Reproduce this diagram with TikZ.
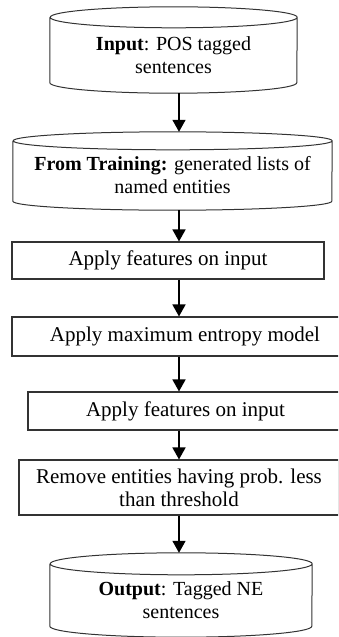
\documentclass[tikz,border=0pt]{standalone}
\usepackage{fontspec}
\setmainfont{Liberation Serif}
\usetikzlibrary{arrows.meta,calc}

\begin{document}
\begin{tikzpicture}[x=1pt, y=-1pt,
        every node/.style={align=center, inner sep=0pt},
        db/.style={rectangle, font=\fontsize{20}{23}\selectfont},
        dbline/.style={draw=black!80, line width=1pt},
        stepbox/.style={rectangle, draw=black!80, line width=1.1pt, font=\fontsize{21}{23}\selectfont},
        flow/.style={line width=1.6pt, -{Triangle[width=13pt,length=12pt]}}]
        \clip (0,0) rectangle (338,637);
        \coordinate (ax) at (179,0);
        % cylinder nodes hold the body below the top rim
        \node (v0) [db, minimum width=247pt, minimum height=75.5pt] at (173.5,55.25) {\textbf{Input}: POS tagged\\sentences};
        \node (v1) [db, minimum width=319pt, minimum height=69pt] at (172.5,175.5) {\textbf{From Training:} generated lists of\\named entities};
        \node (v2) [stepbox, minimum width=312pt, minimum height=37pt] at (168,260.5) {Apply features on input};
        \node (v3) [stepbox, minimum width=346pt, minimum height=39pt] at (185,336.5) {Apply maximum entropy model};
        \node (v4) [stepbox, minimum width=315pt, minimum height=38pt] at (185.5,411) {Apply features on input};
        \node (v5) [stepbox, minimum width=320pt, minimum height=55pt] at (179,487.5) {Remove entities having prob. less\\than threshold};
        \node (v6) [db, minimum width=262pt, minimum height=73pt] at (181,600.5) {\textbf{Output}: Tagged NE\\sentences};
        \foreach \n/\rx/\ry in {v0/123.5/10.5, v1/159.5/9, v6/131/11}
                \draw [dbline] (\n.north west) -- ([yshift=\ry pt]\n.south west)
                        arc [start angle=180, end angle=360, x radius=\rx pt, y radius=\ry pt]
                        -- (\n.north east)
                        arc [start angle=0, end angle=360, x radius=\rx pt, y radius=\ry pt];
        \draw (v0.south -| ax) edge [flow] ($(v1.north -| ax)+(0,-9)$);
        \draw (v1.south -| ax) edge [flow] (v2.north -| ax);
        \draw (v2.south -| ax) edge [flow] (v3.north -| ax);
        \draw (v3.south -| ax) edge [flow] (v4.north -| ax);
        \draw (v4.south -| ax) edge [flow] (v5.north -| ax);
        \draw (v5.south -| ax) edge [flow] ($(v6.north -| ax)+(0,-11)$);
\end{tikzpicture}
\end{document}
